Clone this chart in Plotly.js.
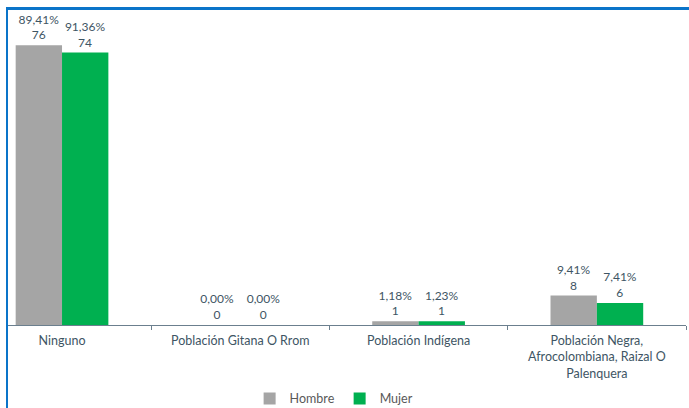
<!DOCTYPE html>
<html>
<head>
<meta charset="utf-8">
<script src="https://cdn.plot.ly/plotly-3.0.1.min.js"></script>
<style>
  html, body { margin:0; padding:0; background:#fff; overflow:hidden; }
  #frame { position:absolute; left:6px; top:7px; width:720px; height:440px; border-top:3px solid #0a74c9; border-left:2.5px solid #0a74c9; pointer-events:none; z-index:5; }
  #chart { position:absolute; left:0; top:0; width:689px; height:408px; }
</style>
</head>
<body>
<div id="chart"></div>
<div id="frame"></div>
<script>
const categories = ["Ninguno", "Población Gitana O Rrom", "Población Indígena", "Población Negra,<br>Afrocolombiana, Raizal O<br>Palenquera"];
const hombreCounts = [76, 0, 1, 8];
const mujerCounts = [74, 0, 1, 6];
const hombrePct = [89.41, 0.00, 1.18, 9.41];
const mujerPct = [91.36, 0.00, 1.23, 7.41];

function fmt(p, c) { return p.toFixed(2).replace('.', ',') + '%<br>' + c; }

const font = "Lato, 'Open Sans', sans-serif";
const labelColor = '#3E5564';

const traces = [
  { type:'bar', name:'Hombre', x:categories, y:hombreCounts,
    marker:{color:'#A5A5A5'},
    text: hombreCounts.map((c,i)=>fmt(hombrePct[i], c)),
    textposition:'outside', cliponaxis:false, textangle:0,
    textfont:{family:font, size:12, color:labelColor}, hoverinfo:'none' },
  { type:'bar', name:'Mujer', x:categories, y:mujerCounts,
    marker:{color:'#00B050'},
    text: mujerCounts.map((c,i)=>fmt(mujerPct[i], c)),
    textposition:'outside', cliponaxis:false, textangle:0,
    textfont:{family:font, size:12, color:labelColor}, hoverinfo:'none' }
];

const layout = {
  width:689, height:408,
  margin:{l:8, r:3, t:12, b:83, autoexpand:false},
  paper_bgcolor:'#fff', plot_bgcolor:'#fff',
  barmode:'group', bargap:0.48, bargroupgap:0,
  font:{family:font, size:12, color:labelColor},
  xaxis:{ type:'category', range:[-0.303, 3.5], tickson:'boundaries',
    ticks:'outside', ticklen:4, tickcolor:'#6b7f8e', ticklabelstandoff:4,
    showline:true, linecolor:'#6b7f8e', linewidth:1, showgrid:false, automargin:false,
    tickfont:{family:font, size:12.5, color:labelColor}, fixedrange:true },
  yaxis:{ range:[0,85], visible:false, showgrid:false, zeroline:false, fixedrange:true },
  showlegend:true,
  legend:{ orientation:'h', x:0.481, xanchor:'center', y:-0.236, yanchor:'middle',
    font:{family:font, size:12.5, color:'#595959'}, itemwidth:30, traceorder:'normal' }
};

Plotly.newPlot('chart', traces, layout, {displayModeBar:false, staticPlot:true});
</script>
</body>
</html>
